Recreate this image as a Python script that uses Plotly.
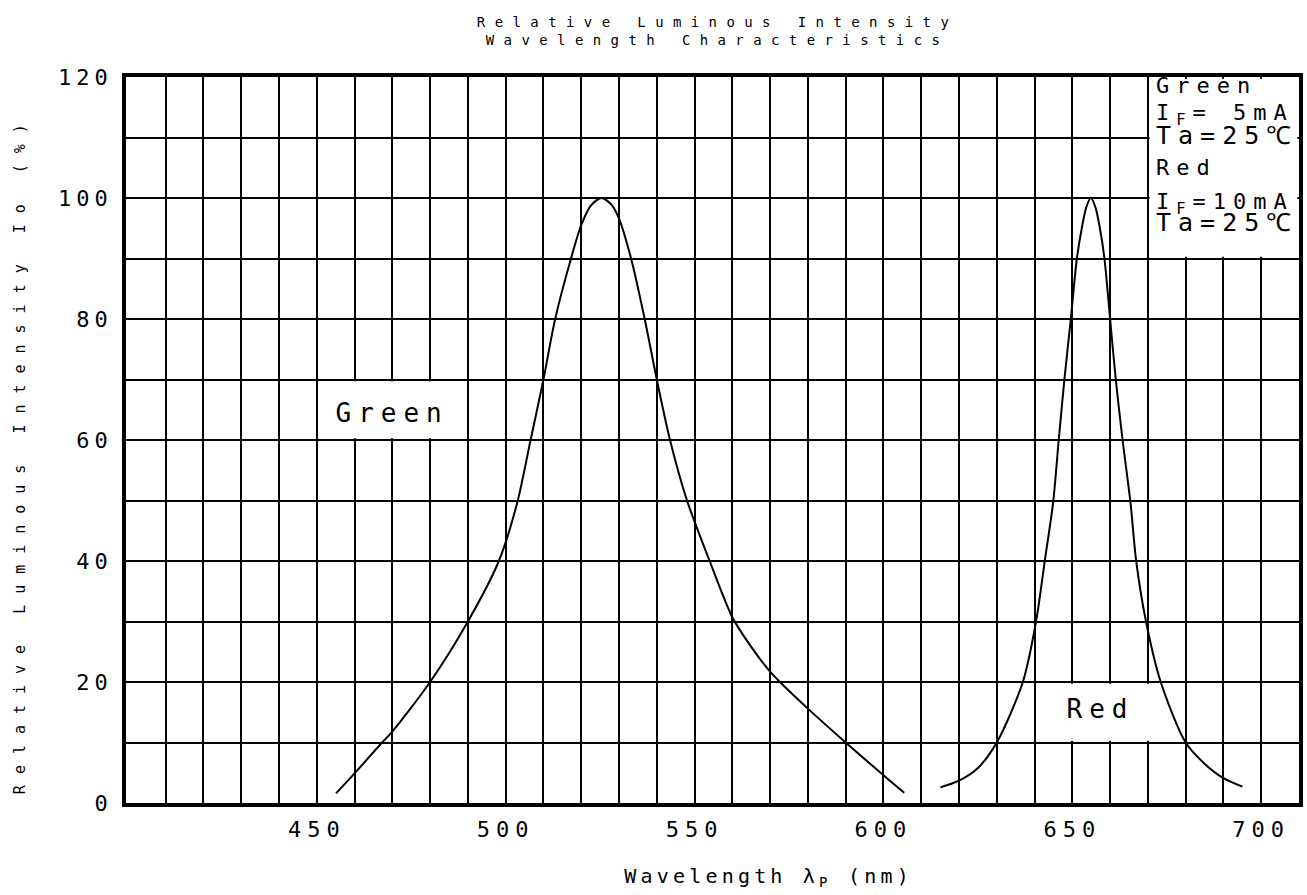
import plotly.graph_objects as go

# ---- data ----
green_wl = [455.1, 460, 467.3, 470, 480, 490, 498.2, 503, 506.6, 510, 513.1, 517.3, 520, 522.5,
            525.3, 528, 530, 533.2, 536.8, 540, 543.5, 548, 554, 560, 565, 570, 572.6,
            580, 590, 600, 605.5]
green_int = [1.6, 4.9, 10, 11.8, 20, 30, 40, 49.5, 60, 70, 80, 90, 95.5, 98.7,
             100, 98.9, 96.6, 90, 80, 70, 60, 50, 40, 30.7, 25.8, 21.7, 20,
             15.6, 10, 4.6, 1.7]

red_wl = [615.1, 620, 625, 630, 636.9, 640.4, 642.7, 644.9, 646.4, 647.9, 649.6, 651.2, 652.5,
          653.7, 654.9, 656.1, 657.3, 658.5, 660, 661.5, 663.3, 665.4, 666.9, 669.5, 673.4,
          680, 685, 690, 695]
red_int = [2.6, 3.7, 5.8, 10, 20, 30, 40, 49.6, 60, 70, 80, 90, 95,
           98.5, 100, 98.5, 95, 90, 80, 70, 60, 49.6, 40, 30, 20,
           10, 6.5, 4.1, 2.7]

x_tick_vals = [450, 500, 550, 600, 650, 700]
x_grid_vals = list(range(410, 711, 10))
y_tick_vals = [0, 20, 40, 60, 80, 100, 120]

title_text = "Relative Luminous Intensity<br>Wavelength Characteristics"
x_title = "Wavelength λ<sub>P</sub> (nm)"
y_title = "Relative Luminous Intensity Io (%)"
legend_lines = ["Green", "I<sub>F</sub>= 5mA", "Ta=25℃", "Red", "I<sub>F</sub>=10mA", "Ta=25℃"]

FONT = "DejaVu Sans Mono"

fig = go.Figure()
fig.add_trace(go.Scatter(x=green_wl, y=green_int, mode="lines", name="Green",
                         line=dict(color="black", width=2, shape="spline", smoothing=0.8),
                         showlegend=False))
fig.add_trace(go.Scatter(x=red_wl, y=red_int, mode="lines", name="Red",
                         line=dict(color="black", width=2, shape="spline", smoothing=0.8),
                         showlegend=False))

# white label boxes that hide the grid
for (x0, x1, y0, y1) in [(450, 490, 60, 70), (640, 680, 10, 20), (670, 710, 90, 120)]:
    fig.add_shape(type="rect", xref="x", yref="y",
                  x0=x0 + 0.45, x1=x1 - 0.45, y0=y0 + 0.28, y1=y1 - 0.28,
                  fillcolor="white", line=dict(width=0), layer="between")

annotations = [
    dict(text=y_title, xref="paper", yref="paper", x=-0.1003, y=0.481,
         textangle=-90, showarrow=False, font=dict(family=FONT, size=15, color="black")),
    dict(text=x_title, xref="paper", yref="paper", x=0.548, y=-0.1224,
         showarrow=False, font=dict(family=FONT, size=20, color="black")),
    dict(text="Green", xref="x", yref="y", x=470, y=64.4, showarrow=False,
         font=dict(family=FONT, size=26, color="black")),
    dict(text="Red", xref="x", yref="y", x=657.5, y=15.5, showarrow=False,
         font=dict(family=FONT, size=26, color="black")),
]
leg_y = [118.6, 113.8, 110.3, 105.0, 99.1, 96.0]
leg_size = [22, 22, 25, 22, 22, 25]
for t, yy, sz in zip(legend_lines, leg_y, leg_size):
    annotations.append(dict(text=t, xref="x", yref="y", x=671.5, y=yy, xanchor="left",
                            align="left", showarrow=False,
                            font=dict(family=FONT, size=sz, color="black")))

fig.update_layout(
    width=1307, height=895,
    margin=dict(l=126, r=4, t=77, b=92),
    paper_bgcolor="white", plot_bgcolor="white",
    title=dict(text=title_text, x=0.549, xanchor="center", y=0.97, yanchor="top",
               yref="container", font=dict(family=FONT, size=14, color="black")),
    annotations=annotations,
    showlegend=False,
)

fig.update_xaxes(range=[399.5, 710], tickvals=x_tick_vals, ticks="",
                 showgrid=True, gridcolor="black", gridwidth=2,
                 minor=dict(tickvals=x_grid_vals, showgrid=True, gridcolor="black", gridwidth=2),
                 showline=True, mirror=True, linecolor="black", linewidth=3.5,
                 zeroline=False, ticklabelstandoff=4,
                 tickfont=dict(family=FONT, size=22, color="black"))
fig.update_yaxes(range=[0, 120], tickvals=y_tick_vals, ticks="",
                 showgrid=True, gridcolor="black", gridwidth=2,
                 minor=dict(tick0=0, dtick=10, showgrid=True, gridcolor="black", gridwidth=2),
                 showline=True, mirror=True, linecolor="black", linewidth=3.5,
                 zeroline=False, ticklabelstandoff=5,
                 tickfont=dict(family=FONT, size=22, color="black"))

css = """
html,body{margin:0 !important;padding:0 !important;overflow:hidden;}
.gtitle{letter-spacing:9.4px}
.xtick text{letter-spacing:6px}
.ytick text{letter-spacing:5px}
.annotation .annotation-text{letter-spacing:7px}
.annotation[data-index="0"] .annotation-text{letter-spacing:11px}
.annotation[data-index="1"] .annotation-text{letter-spacing:4.2px}
"""
post = ("var s=document.createElement('style');s.textContent="
        + repr(css).replace("\\n", " ") + ";document.head.appendChild(s);")
fig.write_html("out.html", post_script=post, config={"displayModeBar": False})
